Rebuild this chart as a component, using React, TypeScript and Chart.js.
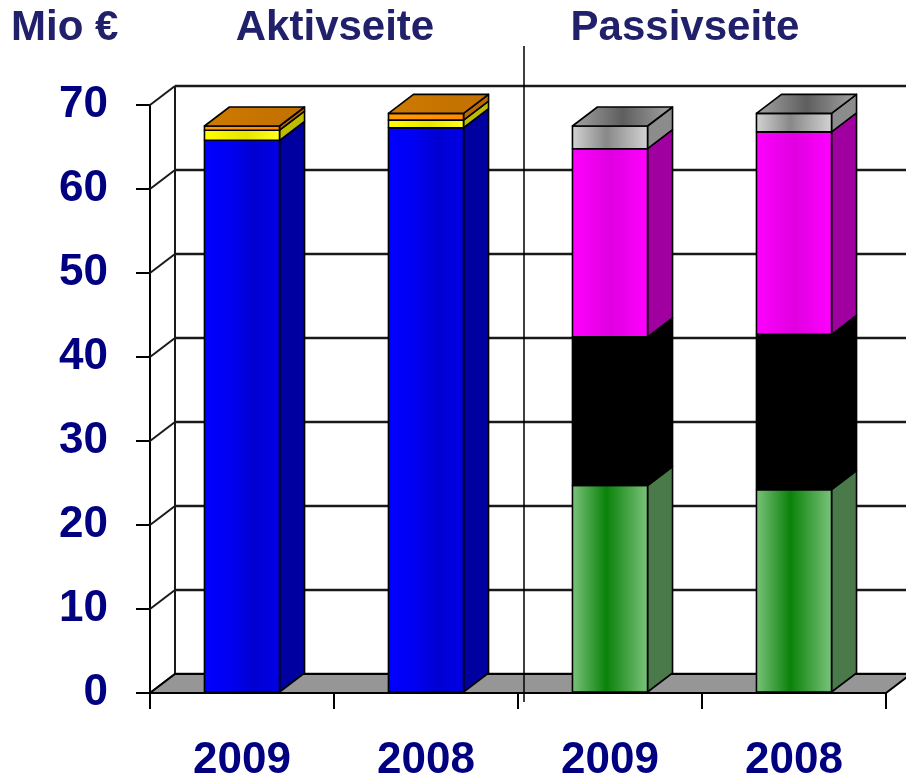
import React, { useEffect, useRef } from 'react';
import { Chart, registerables } from 'chart.js';
Chart.register(...registerables);

// ---- data ----
const categories = ['2009', '2008', '2009', '2008'];
const aktivBlue = [65.8, 67.3, null, null];
const aktivYellow = [1.2, 0.9, null, null];
const aktivOrange = [0.5, 0.8, null, null];
const passivGreen = [null, null, 24.7, 24.2];
const passivBlack = [null, null, 17.7, 18.5];
const passivMagenta = [null, null, 22.4, 24.1];
const passivGray = [null, null, 2.7, 2.2];
const yTickValues = [0, 10, 20, 30, 40, 50, 60, 70];
const headerTexts = ['Mio €', 'Aktivseite', 'Passivseite'];

// ---- styles ----
type Stops = [number, string][];
interface SegStyle { front: Stops; side: string; top: Stops; }
const styles: SegStyle[] = [
  { front: [[0, '#0000FF'], [0.35, '#0000F2'], [0.65, '#0000D2'], [1, '#0000E6']], side: '#0000A0', top: [[0, '#3030C8'], [1, '#2020A0']] },
  { front: [[0, '#FFFF00'], [0.55, '#E6E600'], [1, '#FFFF20']], side: '#BDBD00', top: [[0, '#D6D600'], [1, '#B0B000']] },
  { front: [[0, '#FF9C00'], [1, '#FF8A00']], side: '#B86A00', top: [[0, '#CC7A00'], [1, '#C27000']] },
  { front: [[0, '#7AC27A'], [0.45, '#0A820A'], [1, '#7AC27A']], side: '#4A7A4A', top: [[0, '#4A9A4A'], [1, '#3A7A3A']] },
  { front: [[0, '#000000'], [1, '#000000']], side: '#000000', top: [[0, '#000000'], [1, '#000000']] },
  { front: [[0, '#FF00FF'], [0.5, '#E000E0'], [1, '#FF00FF']], side: '#A000A0', top: [[0, '#C000C0'], [1, '#A000A0']] },
  { front: [[0, '#D2D2D2'], [0.45, '#888888'], [1, '#D2D2D2']], side: '#8C8C8C', top: [[0, '#A4A4A4'], [0.5, '#5E5E5E'], [1, '#A4A4A4']] },
];

const DX = 25;
const DY = 19;
const FONT = '"Liberation Sans", Arial, Helvetica, sans-serif';

function grad(ctx: CanvasRenderingContext2D, x0: number, x1: number, stops: Stops) {
  const g = ctx.createLinearGradient(x0, 0, x1, 0);
  stops.forEach(([o, c]) => g.addColorStop(o, c));
  return g;
}

function poly(ctx: CanvasRenderingContext2D, pts: number[][], fill: string | CanvasGradient) {
  ctx.beginPath();
  ctx.moveTo(pts[0][0], pts[0][1]);
  for (let i = 1; i < pts.length; i++) ctx.lineTo(pts[i][0], pts[i][1]);
  ctx.closePath();
  ctx.fillStyle = fill;
  ctx.fill();
  ctx.stroke();
}

const threeD = {
  id: 'threeD',
  beforeDatasetsDraw(chart: any) {
    const ctx: CanvasRenderingContext2D = chart.ctx;
    const { left, right, bottom } = chart.chartArea;
    const ys = chart.scales.y;
    const xs = chart.scales.x;
    ctx.save();
    ctx.lineCap = 'butt';
    // back wall gridlines
    ctx.strokeStyle = '#1a1a1a';
    yTickValues.forEach((v) => {
      const py = ys.getPixelForValue(v);
      ctx.lineWidth = 2;
      ctx.beginPath();
      ctx.moveTo(left, py);
      ctx.lineTo(left + DX, py - DY);
      ctx.stroke();
      ctx.lineWidth = 2.5;
      ctx.beginPath();
      ctx.moveTo(left + DX, py - DY);
      ctx.lineTo(right + DX + 10, py - DY);
      ctx.stroke();
    });
    // back wall left edge
    ctx.lineWidth = 2;
    ctx.beginPath();
    ctx.moveTo(left + DX, ys.getPixelForValue(70) - DY);
    ctx.lineTo(left + DX, bottom - DY);
    ctx.stroke();
    // floor
    ctx.strokeStyle = '#000';
    ctx.lineWidth = 2;
    ctx.lineJoin = 'miter';
    poly(ctx, [[left, bottom], [right, bottom], [right + DX, bottom - DY], [left + DX, bottom - DY]], '#969696');
    // divider between Aktiv / Passiv
    const divX = (xs.getPixelForValue(1) + xs.getPixelForValue(2)) / 2 + 6;
    ctx.lineWidth = 1.5;
    ctx.beginPath();
    ctx.moveTo(divX, 46);
    ctx.lineTo(divX, bottom + 9);
    ctx.stroke();
    ctx.restore();
  },
  afterDatasetsDraw(chart: any) {
    const ctx: CanvasRenderingContext2D = chart.ctx;
    ctx.save();
    ctx.strokeStyle = '#000';
    ctx.lineWidth = 1.6;
    ctx.lineJoin = 'round';
    const n = chart.data.labels.length;
    for (let j = 0; j < n; j++) {
      const segs: { el: any; s: SegStyle }[] = [];
      chart.data.datasets.forEach((ds: any, i: number) => {
        if (ds.data[j] == null) return;
        const el = chart.getDatasetMeta(i).data[j];
        segs.push({ el, s: styles[i] });
      });
      segs.forEach(({ el, s }, k) => {
        const p = el.getProps(['x', 'y', 'base', 'width'], true);
        const l = p.x - p.width / 2;
        const r = p.x + p.width / 2;
        const t = Math.min(p.y, p.base);
        const b = Math.max(p.y, p.base);
        // side
        poly(ctx, [[r, t], [r + DX, t - DY], [r + DX, b - DY], [r, b]], s.side);
        // front
        poly(ctx, [[l, t], [r, t], [r, b], [l, b]], grad(ctx, l, r, s.front));
        if (k === segs.length - 1) {
          poly(ctx, [[l, t], [l + DX, t - DY], [r + DX, t - DY], [r, t]], grad(ctx, l, r + DX, s.top));
        }
      });
    }
    ctx.restore();
  },
  afterDraw(chart: any) {
    const ctx: CanvasRenderingContext2D = chart.ctx;
    ctx.save();
    ctx.fillStyle = '#21216B';
    ctx.font = `bold 42px ${FONT}`;
    ctx.textBaseline = 'alphabetic';
    ctx.textAlign = 'left';
    ctx.fillText(headerTexts[0], 11, 40);
    ctx.textAlign = 'center';
    ctx.fillText(headerTexts[1], 335, 40);
    ctx.fillText(headerTexts[2], 685, 40);
    ctx.restore();
  },
};

export default function App() {
  const ref = useRef<HTMLCanvasElement>(null);
  useEffect(() => {
    if (!ref.current) return;
    const series = [aktivBlue, aktivYellow, aktivOrange, passivGreen, passivBlack, passivMagenta, passivGray];
    const chart = new Chart(ref.current, {
      type: 'bar',
      data: {
        labels: categories,
        datasets: series.map((d, i) => ({
          label: 'S' + i,
          data: d as any,
          backgroundColor: 'rgba(0,0,0,0)',
          borderWidth: 0,
          barPercentage: 0.408,
          categoryPercentage: 1,
          stack: 'all',
        })),
      },
      options: {
        animation: false,
        responsive: false,
        devicePixelRatio: 1,
        layout: { padding: { top: 105, right: 20, left: 0, bottom: 0 } },
        plugins: { legend: { display: false }, tooltip: { enabled: false }, title: { display: false } },
        scales: {
          x: {
            type: 'category',
            stacked: true,
            offset: true,
            grid: { display: true, offset: true, drawOnChartArea: false, drawTicks: true, tickLength: 16, color: '#000', lineWidth: 2 },
            border: { display: true, color: '#000', width: 2 },
            ticks: {
              font: { family: FONT, size: 44, weight: 'bold', lineHeight: 1 },
              color: '#000080',
              padding: 30,
              maxRotation: 0,
              autoSkip: false,
            },
            afterFit: (s: any) => { s.height = 87; },
          },
          y: {
            stacked: true,
            min: 0,
            max: 70,
            grid: { display: true, drawOnChartArea: false, drawTicks: true, tickLength: 14, color: '#000', lineWidth: 2 },
            border: { display: true, color: '#000', width: 2 },
            ticks: {
              stepSize: 10,
              font: { family: FONT, size: 44, weight: 'bold', lineHeight: 1 },
              color: '#000080',
              padding: 28,
            },
            afterFit: (s: any) => { s.width = 150; },
          },
        },
      },
      plugins: [threeD],
    });
    return () => chart.destroy();
  }, []);
  return (
    <div style={{ position: 'absolute', left: 0, top: 0, width: 906, height: 780, background: '#fff' }}>
      <canvas ref={ref} width={906} height={780} style={{ display: 'block' }} />
    </div>
  );
}
